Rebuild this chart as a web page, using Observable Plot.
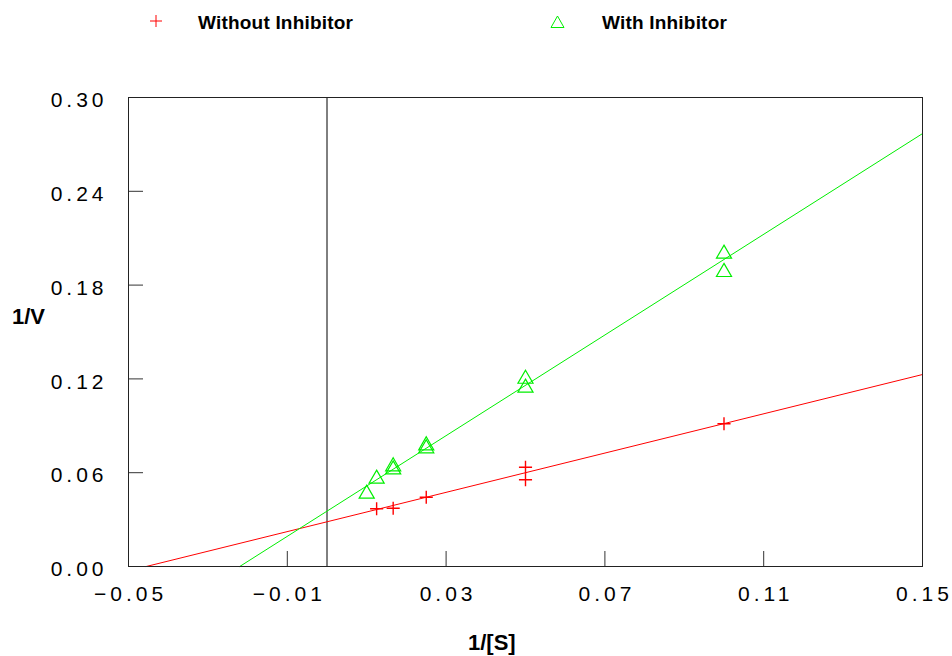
<!DOCTYPE html>
<html>
<head>
<meta charset="utf-8">
<script src="https://cdn.jsdelivr.net/npm/d3@7"></script>
<script src="https://cdn.jsdelivr.net/npm/@observablehq/plot@0.6"></script>
<style>
  body { margin: 0; background: #fff; font-family: "Liberation Sans", Arial, sans-serif; }
  #wrap { position: relative; width: 952px; height: 656px; }
  #legend { position: relative; height: 45px; }
  .leg { position: absolute; top: 13px; font-weight: bold; font-size: 19px; line-height: 1; letter-spacing: 0.2px; color: #000; }
  .sym { position: absolute; top: 14px; }
  .axlab { position: absolute; font-weight: bold; font-size: 22px; line-height: 1; color: #000; }
  #chart svg { display: block; }
  svg text { font-family: "Liberation Sans", Arial, sans-serif; }
  g[aria-label="x-axis tick label"] text, g[aria-label="y-axis tick label"] text { letter-spacing: 4px; }
</style>
</head>
<body>
<div id="wrap">
  <div id="legend">
    <svg class="sym" style="left:149px" width="14" height="14"><path d="M7,1V13M1,7H13" stroke="#ff0000" stroke-width="1" fill="none"/></svg>
    <div class="leg" style="left:198px">Without Inhibitor</div>
    <svg class="sym" style="left:550px" width="16" height="16"><path d="M7.5,2L14,13.5H1Z" stroke="#00ee00" stroke-width="1" fill="none"/></svg>
    <div class="leg" style="left:602px">With Inhibitor</div>
  </div>
  <div id="chart"></div>
  <div class="axlab" style="left:12px; top:306px">1/V</div>
  <div class="axlab" style="left:468px; top:632px">1/[S]</div>
</div>
<script>
// Series names
const seriesNames = ["Without Inhibitor", "With Inhibitor"];
// Without inhibitor: 1/[S] and 1/V
const withoutX = [0.0125, 0.01667, 0.025, 0.05, 0.05, 0.1];
const withoutY = [0.0369, 0.0373, 0.0443, 0.0635, 0.0555, 0.0913];
// With inhibitor
const withX = [0.01, 0.0125, 0.01667, 0.01667, 0.025, 0.025, 0.05, 0.05, 0.1, 0.1];
const withY = [0.0465, 0.0561, 0.0620, 0.0640, 0.0755, 0.0774, 0.1200, 0.1143, 0.2000, 0.1883];
// Fitted lines (slope, intercept)
const fitSlope = [0.628, 1.61];
const fitIntercept = [0.0286, 0.0354];
// Tick labels
const xTicks = [-0.05, -0.01, 0.03, 0.07, 0.11, 0.15];
const yTicks = [0, 0.06, 0.12, 0.18, 0.24, 0.30];

const xDomain = [-0.05, 0.15];
const yDomain = [0, 0.30];
const RED = "#ff0000", GREEN = "#00ee00";

const ptsWithout = withoutX.map((x, i) => ({x, y: withoutY[i]}));
const ptsWith = withX.map((x, i) => ({x, y: withY[i]}));

function fitLine(k) {
  const m = fitSlope[k], b = fitIntercept[k];
  const x0 = Math.max(xDomain[0], -b / m);
  const x1 = xDomain[1];
  return [{x: x0, y: m * x0 + b}, {x: x1, y: m * x1 + b}];
}

const fmt = d3.format(".2f");
const chart = Plot.plot({
  width: 952,
  height: 611,
  marginLeft: 128,
  marginRight: 30,
  marginTop: 52,
  marginBottom: 90,
  style: {fontSize: "21px", fontFamily: "Liberation Sans, Arial, sans-serif", color: "#000", background: "#fff"},
  x: {domain: xDomain},
  y: {domain: yDomain},
  marks: [
    // inward tick marks
    Plot.axisX(xTicks, {tickSize: -15, tickFormat: () => "", label: null, stroke: "#333"}),
    Plot.axisY(yTicks, {tickSize: -15, tickFormat: () => "", label: null, stroke: "#333"}),
    // tick labels
    Plot.axisX(xTicks, {tickSize: 0, tickPadding: 20, fontSize: 21, dx: 2, tickFormat: fmt, label: null}),
    Plot.axisY(yTicks, {tickSize: 0, tickPadding: 21, fontSize: 21, dy: 3, tickFormat: fmt, label: null}),
    Plot.ruleX([0], {stroke: "#000", strokeWidth: 1}),
    Plot.line(fitLine(0), {x: "x", y: "y", stroke: RED, strokeWidth: 1}),
    Plot.line(fitLine(1), {x: "x", y: "y", stroke: GREEN, strokeWidth: 1}),
    Plot.dot(ptsWithout, {x: "x", y: "y", symbol: "plus", r: 4.3, stroke: RED, strokeWidth: 1.4}),
    Plot.dot(ptsWith, {x: "x", y: "y", symbol: "triangle", r: 5.6, stroke: GREEN, strokeWidth: 1.2}),
    Plot.frame({stroke: "#222"})
  ]
});
document.getElementById("chart").appendChild(chart);
</script>
</body>
</html>
